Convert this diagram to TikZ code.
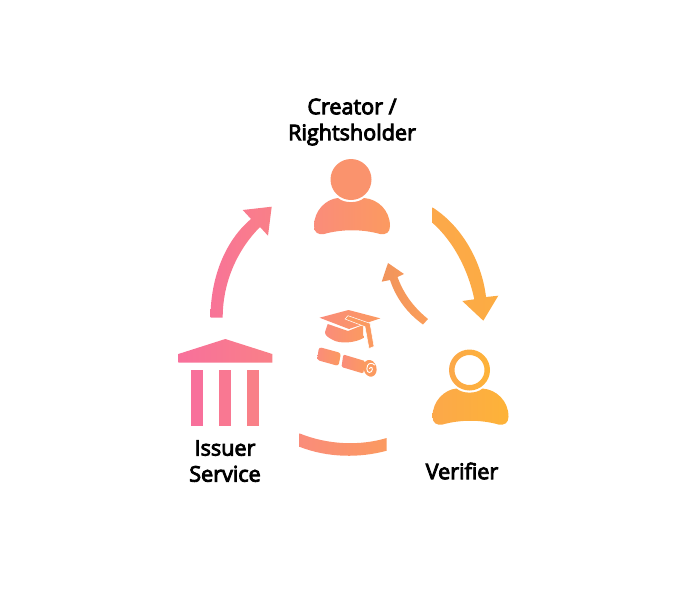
\documentclass[tikz,border=0pt]{standalone}
\usepackage{fontspec}
\newfontfamily\labelfont{Open Sans}[FakeBold=4]
\definecolor{gradA}{HTML}{F8709B}
\definecolor{gradB}{HTML}{F98088}
\definecolor{gradC}{HTML}{FA8C7A}
\definecolor{gradD}{HTML}{FB9A60}
\definecolor{gradE}{HTML}{FCA84A}
\definecolor{gradF}{HTML}{FDB338}
\tikzset{
	label text/.style={font=\labelfont\fontsize{16.2}{19.5}\selectfont, text=black, align=center, inner sep=0pt},
	pinkfill/.style={left color=gradA, right color=gradB},
	warmfill/.style={left color=gradC, right color=gradD},
	backfill/.style={left color=gradD!96!black, right color=gradD!70!gradE},
	sunfill/.style={left color=gradE, right color=gradF},
	person body/.pic={
		\shade[pic actions] (-37,46.5) .. controls (-37,31) and (-25,19.5) .. (-13,18.5)
			.. controls (-7,24) and (7,24) .. (13,18.5)
			.. controls (27,19.5) and (39,31) .. (39,46.5)
			.. controls (39,53) and (35,55.5) .. (29,54.5)
			.. controls (11,49.5) and (-9,49.5) .. (-27,54.5)
			.. controls (-33,55.5) and (-37,53) .. (-37,46.5) -- cycle;
	}
}
\begin{document}
\begin{tikzpicture}[x=0.75pt,y=-0.75pt]
	\useasboundingbox (0,0) rectangle (680,604);
	% labels
	\node[label text] (creator) at (352,122) {Creator /\\Rightsholder};
	\node[label text] (issuer) at (225,461) {Issuer\\Service};
	\node[label text] (verifier) at (462,471) {Verifier};
	% creator
	\fill[gradC!50!gradD] (351,179.5) circle [radius=20.5];
	\pic[warmfill] (creatorbody) at (351,179.5) {person body};
	% verifier
	\shade[sunfill, even odd rule] (469.5,370) circle [radius=20.5] circle [radius=15];
	\pic[sunfill] (verifierbody) at (469.5,370) {person body};
	% issuer
	\shade[pinkfill] (178.3,362.7) -- (178.3,354) -- (225.3,339) -- (272.3,354) -- (272.3,362.7) -- cycle;
	\foreach \colx/\tone in {191.3/gradA, 219.3/gradA!50!gradB, 247.3/gradB}
		\fill[\tone] (\colx,370) rectangle ++(12,55.7);
	% arrows
	\shade[left color=gradA!80!gradB, right color=gradB] (210.5,317.7)
		.. controls (210.5,275) and (227,239) .. (251,219)
		-- (242.7,210) -- (271.7,206.7) -- (268,235.7) -- (260,227)
		.. controls (239,248) and (222.7,280) .. (222.7,317.7) -- cycle;
	\shade[left color=gradE, right color=gradE!60!gradF] (432.3,207.3)
		.. controls (462,226) and (482,262) .. (486,297)
		-- (498.3,295.7) -- (483.3,320.7) -- (462.3,301) -- (474.3,299.3)
		.. controls (468,269) and (453,241) .. (432.3,222.7) -- cycle;
	\shade[backfill] (428,319)
		.. controls (412,306) and (403,292) .. (397.5,277)
		-- (404,274) -- (388,263) -- (381.7,281.7) -- (390,280)
		.. controls (396,298) and (407,313) .. (423,324.5) -- cycle;
	\shade[warmfill] (299.3,433.3)
		.. controls (328,445) and (360,446) .. (386.7,438) -- (386.7,450.7)
		.. controls (360,458) and (328,458) .. (299.3,446.7) -- cycle;
	% cap and scroll
	\shade[warmfill] (319.5,317.7) -- (348.5,310) -- (380.3,318.3) -- (349,329) -- cycle;
	\shade[warmfill] (327.7,324) -- (348,331) -- (363,325) -- (363.3,338)
		.. controls (355,343) and (340,344) .. (333,340)
		.. controls (327,337) and (325,335) .. (325,332) -- cycle;
	\fill[gradD, draw=white, line width=0.4pt] (348,315.7) -- (370,323.3) -- (374,346.5) -- (369,348.5) -- (365,326.7) -- (345,319) -- cycle;
	\shade[warmfill, rounded corners=2pt] (319,347) -- (341,353) -- (338.5,366) -- (317,360) -- cycle;
	\shade[warmfill, rounded corners=1pt] (343.3,354.5) -- (365,361) -- (363.3,373.5) -- (341.5,367) -- cycle;
	\fill[gradD, rotate around={15:(370,368.3)}] (370,368.3) circle [x radius=6.5, y radius=8.5];
	\draw[white, line width=0.7pt, line cap=round] (369.5,368.5) .. controls (371.5,365.5) and (373.5,368.5) .. (371.5,371.5) .. controls (368.5,374.5) and (365.5,370.5) .. (367.5,365.5) .. controls (369,362.5) and (373,363) .. (374.5,365);
\end{tikzpicture}
\end{document}
